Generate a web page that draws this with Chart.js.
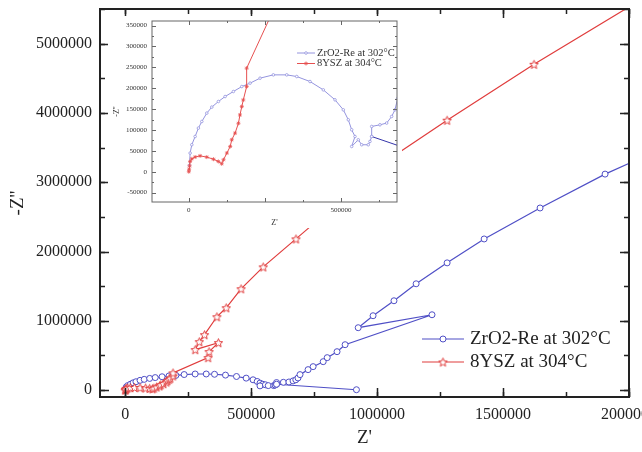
<!DOCTYPE html>
<html>
<head>
<meta charset="utf-8">
<script src="https://cdn.jsdelivr.net/npm/chart.js@4.4.1/dist/chart.umd.min.js"></script>
<style>
html, body { margin: 0; padding: 0; background: #fff; overflow: hidden; }
#wrap { position: relative; width: 642px; height: 452px; }
#mainChart { position: absolute; left: 0; top: 0; }
#insetChart { position: absolute; left: 108px; top: 16px; background: #fff; }
</style>
</head>
<body>
<div id="wrap">
  <canvas id="mainChart" width="642" height="452"></canvas>
  <canvas id="insetChart" width="294" height="212"></canvas>
</div>
<script>
// ZrO2-Re at 302°C : Z' and -Z'' (null = break in the trace)
const zrRe = [2000, 4300, 9800, 20700, 31500, 42700, 59100, 75500, 97200, 119200, 146400, 174000,
  201300, 234100, 277700, 321700, 354600, 398200, 441900, 480300, 507600, 524000, 535100, 546000,
  535100, 556800, 568000, 589600, 595200, 600800, 600800, 628000, 650000, 666400, 677300, 686000,
  694000, 726000, 746000, 786000, 802000, 841000, 873000, 1218000, 925000, 984000, 1067000,
  1155000, 1278000, 1425000, 1647000, 1905000, 2160000, null, 600800, 918000];
const zrIm = [15000, 44700, 64600, 84400, 104500, 120300, 140400, 154800, 168200, 180100, 192100, 204000,
  212200, 224100, 232000, 232000, 228000, 216000, 196100, 172200, 148300, 124400, 100500, 84400,
  60500, 76500, 64600, 64600, 72500, 84400, 108400, 112400, 116500, 132300, 148300, 175000,
  223000, 295000, 338000, 410000, 468000, 554000, 655000, 1087000, 900000, 1073000, 1289000,
  1534000, 1836000, 2181000, 2628000, 3117000, 3530000, null, 84400, 5000];

// 8YSZ at 304°C
const yszRe = [0, 1000, 2500, 4300, 10000, 20700, 37000, 59000, 81000, 97000, 108000, 114000, 125000,
  136000, 141000, 152000, 163000, 168000, 174000, 179000, 190000, 190000, 329000, 333000, 370000,
  278000, 294000, 315000, 364000, 401000, 460000, 548000, 678000, 1050000, 1278000, 1623000, 2050000];
const yszIm = [0, 6000, 14000, 24600, 31000, 35200, 38000, 35000, 30000, 24600, 19000, 28700, 44700,
  60500, 76500, 92500, 116000, 136000, 156000, 172000, 204000, 248000, 468000, 554000, 684000,
  583000, 698000, 799000, 1058000, 1188000, 1462000, 1778000, 2182000, 3340000, 3895000, 4702000, 5640000];

const labels = ['ZrO2-Re at 302°C', '8YSZ at 304°C'];

// tick labels
const xTicks = [0, 500000, 1000000, 1500000, 2000000];
const yTicks = [0, 1000000, 2000000, 3000000, 4000000, 5000000];
const insetXTicks = [0, 500000];
const insetYTicks = [-50000, 0, 50000, 100000, 150000, 200000, 250000, 300000, 350000];

const toPoints = (re, im) => re.map((x, i) => ({ x: x, y: im[i] }));
const zrPoints = toPoints(zrRe, zrIm);
const yszPoints = toPoints(yszRe, yszIm);
const gapAt = zrIm.indexOf(null);

Chart.defaults.font.family = "'Liberation Serif', 'Times New Roman', serif";
Chart.defaults.color = '#222';

const BLUE = '#4f4fc6';
const RED = '#e03c3c';

// hollow five point star used as the 8YSZ marker
function makeStar(size, color, lw) {
  const c = document.createElement('canvas');
  c.width = c.height = size;
  const g = c.getContext('2d');
  const r = size / 2 - lw, cx = size / 2, cy = size / 2 + 0.5;
  g.beginPath();
  for (let i = 0; i < 10; i++) {
    const a = -Math.PI / 2 + i * Math.PI / 5;
    const rr = i % 2 ? r * 0.45 : r;
    g.lineTo(cx + rr * Math.cos(a), cy + rr * Math.sin(a));
  }
  g.closePath();
  g.fillStyle = '#fff';
  g.fill();
  g.strokeStyle = color;
  g.lineWidth = lw;
  g.stroke();
  return c;
}
const starMain = makeStar(11, RED, 1);

// box frame with inward ticks on all four sides
const frameTicks = {
  id: 'frameTicks',
  afterDatasetsDraw(chart, args, o) {
    const { ctx, chartArea: a, scales: { x, y } } = chart;
    ctx.save();
    ctx.strokeStyle = o.color;
    ctx.lineWidth = o.tickWidth;
    const mark = (scale, step, len) => {
      ctx.beginPath();
      for (let v = Math.ceil(scale.min / step) * step; v <= scale.max + 1; v += step) {
        const p = Math.round(scale.getPixelForValue(v)) + 0.5;
        if (scale.isHorizontal()) {
          ctx.moveTo(p, a.bottom); ctx.lineTo(p, a.bottom - len);
          ctx.moveTo(p, a.top); ctx.lineTo(p, a.top + len);
        } else {
          ctx.moveTo(a.left, p); ctx.lineTo(a.left + len, p);
          ctx.moveTo(a.right, p); ctx.lineTo(a.right - len, p);
        }
      }
      ctx.stroke();
    };
    mark(x, o.xMinor, o.minorLen);
    mark(x, o.xMajor, o.majorLen);
    mark(y, o.yMinor, o.minorLen);
    mark(y, o.yMajor, o.majorLen);
    ctx.lineWidth = o.width;
    ctx.strokeRect(a.left, a.top, a.right - a.left, a.bottom - a.top);
    ctx.restore();
  }
};

// legend drawn inside the plot area
const boxLegend = {
  id: 'boxLegend',
  afterDraw(chart, args, o) {
    const ctx = chart.ctx;
    ctx.save();
    ctx.font = o.font;
    ctx.textBaseline = 'middle';
    chart.data.datasets.forEach((ds, i) => {
      const y = o.y + i * o.gap;
      ctx.strokeStyle = ds.borderColor;
      ctx.lineWidth = ds.borderWidth;
      ctx.beginPath();
      ctx.moveTo(o.x, y);
      ctx.lineTo(o.x + o.len, y);
      ctx.stroke();
      ctx.fillStyle = ds.pointBackgroundColor;
      ctx.strokeStyle = ds.pointBorderColor || ds.borderColor;
      ctx.lineWidth = ds.pointBorderWidth;
      Chart.helpers.drawPoint(ctx, { pointStyle: ds.pointStyle, radius: ds.pointRadius,
        borderWidth: ds.pointBorderWidth, rotation: 0 }, o.x + o.len / 2, y);
      ctx.fillStyle = o.color;
      ctx.fillText(ds.label, o.x + o.len + o.pad, y);
    });
    ctx.restore();
  }
};

const setTicks = arr => scale => { scale.ticks = arr.map(v => ({ value: v })); };

// main chart
new Chart(document.getElementById('mainChart'), {
  type: 'line',
  data: {
    datasets: [{
      label: labels[0],
      data: zrPoints,
      borderColor: BLUE,
      borderWidth: 1.2,
      pointStyle: 'circle',
      pointRadius: 3,
      pointBorderWidth: 1,
      pointBorderColor: BLUE,
      pointBackgroundColor: '#fff',
      order: 1
    }, {
      label: labels[1],
      data: yszPoints,
      borderColor: RED,
      borderWidth: 1.2,
      pointStyle: starMain,
      pointRadius: 5,
      pointBorderWidth: 1,
      pointBorderColor: RED,
      pointBackgroundColor: '#fff',
      order: 0
    }]
  },
  options: {
    responsive: false,
    animation: false,
    layout: { padding: { left: 0, top: 9, right: 13, bottom: 0 } },
    plugins: {
      legend: { display: false },
      tooltip: { enabled: false },
      frameTicks: { color: '#222', width: 2, tickWidth: 1.5, majorLen: 9, minorLen: 5,
        xMajor: 500000, xMinor: 250000, yMajor: 1000000, yMinor: 500000 },
      boxLegend: { x: 422, y: 339, gap: 23, len: 42, pad: 6, color: '#222',
        font: "19px 'Liberation Serif', 'Times New Roman', serif" }
    },
    scales: {
      x: {
        type: 'linear', min: -100000, max: 2000000,
        afterBuildTicks: setTicks(xTicks),
        afterFit: s => { s.height = 55; s.paddingLeft = 0; s.paddingRight = 0; },
        grid: { display: false, drawTicks: false },
        border: { display: false },
        ticks: { font: { size: 16 }, color: '#222', padding: 8, maxRotation: 0, autoSkip: false,
          callback: v => String(v) },
        title: { display: true, text: "Z'", color: '#222', font: { size: 19 }, padding: { top: 0, bottom: 3 } }
      },
      y: {
        type: 'linear', min: -100000, max: 5500000,
        afterBuildTicks: setTicks(yTicks),
        afterFit: s => { s.width = 100; s.paddingTop = 0; s.paddingBottom = 0; },
        grid: { display: false, drawTicks: false },
        border: { display: false },
        ticks: { font: { size: 16 }, color: '#222', padding: 8, autoSkip: false,
          callback: v => String(v) },
        title: { display: true, text: "-Z''", color: '#222', font: { size: 19 }, padding: { top: 7, bottom: 0 } }
      }
    }
  },
  plugins: [frameTicks, boxLegend]
});

// inset: zoom on the high frequency arcs
const IBLUE = '#9494de';
const IRED = '#e65050';
new Chart(document.getElementById('insetChart'), {
  type: 'line',
  data: {
    datasets: [{
      label: labels[0],
      data: zrPoints,
      borderColor: IBLUE,
      borderWidth: 1,
      segment: { borderColor: c => c.p0DataIndex > gapAt ? '#3535aa' : undefined },
      pointStyle: 'circle',
      pointRadius: 1.3,
      pointBorderWidth: 0.8,
      pointBorderColor: IBLUE,
      pointBackgroundColor: '#fff',
      order: 1
    }, {
      label: labels[1],
      data: yszPoints,
      borderColor: IRED,
      borderWidth: 1,
      pointStyle: 'star',
      pointRadius: 2,
      pointBorderWidth: 0.8,
      pointBorderColor: IRED,
      pointBackgroundColor: IRED,
      order: 0
    }]
  },
  options: {
    responsive: false,
    animation: false,
    layout: { padding: { left: 0, top: 5, right: 5, bottom: 0 } },
    plugins: {
      legend: { display: false },
      tooltip: { enabled: false },
      frameTicks: { color: '#666', width: 1, tickWidth: 1, majorLen: 4, minorLen: 2,
        xMajor: 250000, xMinor: 125000, yMajor: 50000, yMinor: 25000 },
      boxLegend: { x: 189, y: 37, gap: 10.5, len: 18, pad: 2, color: '#333',
        font: "10.5px 'Liberation Serif', 'Times New Roman', serif" }
    },
    scales: {
      x: {
        type: 'linear', min: -121000, max: 684000,
        afterBuildTicks: setTicks(insetXTicks),
        afterFit: s => { s.height = 26; s.paddingLeft = 0; s.paddingRight = 0; },
        grid: { display: false, drawTicks: false },
        border: { display: false },
        ticks: { font: { size: 7 }, color: '#333', padding: 4, maxRotation: 0, autoSkip: false,
          callback: v => String(v) },
        title: { display: true, text: "Z'", color: '#333', font: { size: 8 }, padding: { top: 0, bottom: 0 } }
      },
      y: {
        type: 'linear', min: -72500, max: 361000,
        afterBuildTicks: setTicks(insetYTicks),
        afterFit: s => { s.width = 44; s.paddingTop = 0; s.paddingBottom = 0; },
        grid: { display: false, drawTicks: false },
        border: { display: false },
        ticks: { font: { size: 7 }, color: '#333', padding: 5, autoSkip: false,
          callback: v => String(v) },
        title: { display: true, text: "-Z''", color: '#333', font: { size: 8 }, padding: { top: 4, bottom: 0 } }
      }
    }
  },
  plugins: [frameTicks, boxLegend]
});
</script>
</body>
</html>
